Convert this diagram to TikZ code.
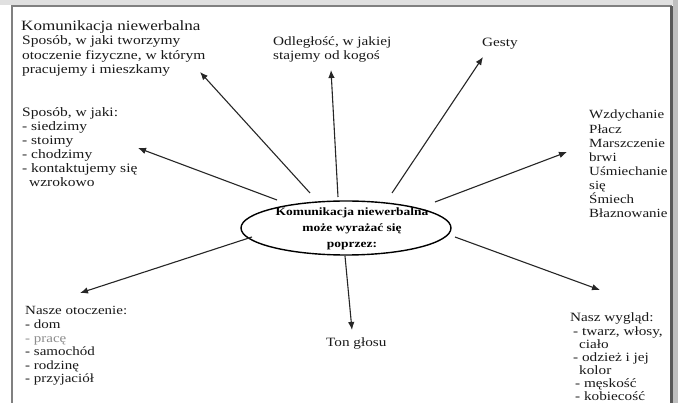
\documentclass[tikz,border=0pt]{standalone}
\usepackage{fontspec}
\setmainfont{Liberation Serif}[FakeStretch=1.2]
\usetikzlibrary{arrows.meta}
\begin{document}
\begin{tikzpicture}[x=1pt,y=-1pt,
  lbl/.style={anchor=base west,inner sep=0pt,align=left,text=black!90},
  arr/.style={draw=black!85,line width=1.1pt,-{Latex[length=8pt,width=6.5pt]}},
  frameline/.style={draw=black!50,line width=2pt},
]
\useasboundingbox (0,0) rectangle (678,403);
\fill[white] (0,0) rectangle (678,403);
\fill[black!12] (0,0) rectangle (678,5);
\fill[black!25] (673,0) rectangle (678,403);
\draw[frameline] (12,403) -- (12,6.5) -- (672,6.5);
\draw[draw=black!65,line width=3pt] (671,6) -- (671,403);

% labels (anchor = baseline of the last line)
\node[lbl,font=\fontsize{14.2}{16}\selectfont] (title) at (21,31) {Komunikacja niewerbalna};
\node[lbl,font=\fontsize{12.9}{14.5}\selectfont] (spos1) at (22,74) {Sposób, w jaki tworzymy\\otoczenie fizyczne, w którym\\pracujemy i mieszkamy};
\node[lbl,font=\fontsize{12.9}{14}\selectfont] (spos2) at (22,187) {Sposób, w jaki:\\- siedzimy\\- stoimy\\- chodzimy\\- kontaktujemy się\\\hspace*{7pt}wzrokowo};
\node[lbl,font=\fontsize{12.7}{13.5}\selectfont] (odl) at (273,59.5) {Odległość, w jakiej\\stajemy od kogoś};
\node[lbl,font=\fontsize{12.7}{14}\selectfont] (gesty) at (482,47) {Gesty};
\node[lbl,font=\fontsize{12.5}{14.1}\selectfont] (emo) at (589,217.7) {Wzdychanie\\Płacz\\Marszczenie\\brwi\\Uśmiechanie\\się\\Śmiech\\Błaznowanie};
\node[lbl,font=\fontsize{12.5}{13.6}\selectfont] (otocz) at (25,383) {Nasze otoczenie:\\- dom\\{\color{black!45}- pracę}\\- samochód\\- rodzinę\\- przyjaciół};
\node[lbl,font=\fontsize{12.7}{14}\selectfont] (ton) at (326,347) {Ton głosu};
\node[lbl,font=\fontsize{12.7}{13.2}\selectfont] (wyglad) at (570,401) {Nasz wygląd:\\\hspace*{3pt}- twarz, włosy,\\\hspace*{9pt}ciało\\\hspace*{3pt}- odzież i jej\\\hspace*{9pt}kolor\\\hspace*{5pt}- męskość\\\hspace*{5pt}- kobiecość};

% central ellipse
\node[inner sep=0pt,align=center,font=\bfseries\fontsize{11.2}{16}\selectfont] (ell) at (352,229) {Komunikacja niewerbalna\\może wyrażać się\\poprzez:};
\draw[line width=1.4pt] (346,228) ellipse [x radius=105pt, y radius=27pt];

% connector ends
\coordinate (s1) at (310,193); \coordinate (t1) at (200,72);
\coordinate (s2) at (277,200); \coordinate (t2) at (138,148);
\coordinate (s3) at (338,197); \coordinate (t3) at (331,70);
\coordinate (s4) at (392,193); \coordinate (t4) at (483,57);
\coordinate (s5) at (435,202); \coordinate (t5) at (567,152);
\coordinate (s6) at (252,237); \coordinate (t6) at (80,293);
\coordinate (s7) at (345,256); \coordinate (t7) at (352,330);
\coordinate (s8) at (455,237); \coordinate (t8) at (600,290);
\foreach \i in {1,...,8} { \draw[arr] (s\i) -- (t\i); }
\end{tikzpicture}
\end{document}
